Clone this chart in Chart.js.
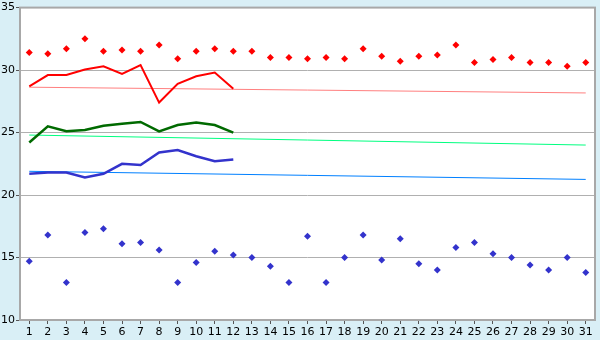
<!DOCTYPE html>
<html>
<head>
<meta charset="utf-8">
<script src="https://cdn.jsdelivr.net/npm/chart.js@4"></script>
<style>
  html, body { margin: 0; padding: 0; background: #d9eff6; }
  #wrap { width: 600px; height: 340px; }
</style>
</head>
<body>
<div id="wrap"><canvas id="canvas1" width="600" height="340"></canvas></div>
<script>
const days = []
for (let d = 1; d <= 31; d++) days.push(String(d))

// daily max / min points
const maxTemps = [31.4, 31.3, 31.7, 32.5, 31.5, 31.6, 31.5, 32.0, 30.9, 31.5,
  31.7, 31.5, 31.5, 31.0, 31.0, 30.9, 31.0, 30.9, 31.7, 31.1,
  30.7, 31.1, 31.2, 32.0, 30.6, 30.85, 31.0, 30.6, 30.6, 30.3, 30.6]
const minTemps = [14.7, 16.8, 13.0, 17.0, 17.3, 16.1, 16.2, 15.6, 13.0, 14.6,
  15.5, 15.2, 15.0, 14.3, 13.0, 16.7, 13.0, 15.0, 16.8, 14.8,
  16.5, 14.5, 14.0, 15.8, 16.2, 15.3, 15.0, 14.4, 14.0, 15.0, 13.8]

// running lines (first 12 days)
const redLine = [28.7, 29.6, 29.6, 30.05, 30.3, 29.7, 30.4, 27.4, 28.9, 29.5, 29.8, 28.5]
const greenLine = [24.2, 25.5, 25.1, 25.2, 25.55, 25.7, 25.85, 25.1, 25.6, 25.8, 25.6, 25.0]
const blueLine = [21.7, 21.8, 21.8, 21.4, 21.7, 22.5, 22.4, 23.4, 23.6, 23.1, 22.7, 22.85]

// trend lines: value at day 1 and day 31
const redTrend = [28.63, 28.17]
const greenTrend = [24.8, 24.0]
const blueTrend = [21.9, 21.25]

const yTicks = [10, 15, 20, 25, 30, 35]

const ends = (arr) => [{x: days[0], y: arr[0]}, {x: days[days.length - 1], y: arr[1]}]

const plotFrame = {
  id: 'plotFrame',
  beforeDraw(chart) {
    const c = chart.ctx, a = chart.chartArea
    c.save()
    c.fillStyle = '#d9eff6'
    c.fillRect(0, 0, chart.width, chart.height)
    c.fillStyle = '#ffffff'
    c.fillRect(a.left, a.top, a.right - a.left, a.bottom - a.top)
    c.restore()
  },
  afterDraw(chart) {
    const c = chart.ctx, a = chart.chartArea
    c.save()
    c.strokeStyle = '#a8a8a8'
    c.lineWidth = 2
    c.strokeRect(a.left, a.top, a.right - a.left, a.bottom - a.top)
    c.restore()
  }
}

const ctx1 = document.getElementById('canvas1').getContext('2d')
new Chart(ctx1, {
  type: 'line',
  data: {
    labels: days,
    datasets: [
      { data: maxTemps, showLine: false, pointStyle: 'rectRot', pointRadius: 3.5, backgroundColor: '#ff0000', borderWidth: 0, pointBorderWidth: 0 },
      { data: minTemps, showLine: false, pointStyle: 'rectRot', pointRadius: 3.5, backgroundColor: '#3333cc', borderWidth: 0, pointBorderWidth: 0 },
      { data: redLine, borderColor: '#ff0000', borderWidth: 2, pointRadius: 0, tension: 0 },
      { data: greenLine, borderColor: '#006a00', borderWidth: 2.5, pointRadius: 0, tension: 0 },
      { data: blueLine, borderColor: '#3333cc', borderWidth: 2.5, pointRadius: 0, tension: 0 },
      { data: ends(redTrend), borderColor: '#ff8080', borderWidth: 1, pointRadius: 0 },
      { data: ends(greenTrend), borderColor: '#00ff80', borderWidth: 1, pointRadius: 0 },
      { data: ends(blueTrend), borderColor: '#0080ff', borderWidth: 1, pointRadius: 0 }
    ]
  },
  options: {
    responsive: false,
    animation: false,
    layout: { padding: { top: 5, right: 5, left: 0, bottom: 0 } },
    plugins: { legend: { display: false }, tooltip: { enabled: false } },
    scales: {
      x: {
        offset: true,
        afterFit: (s) => { s.height = 20 },
        grid: { drawOnChartArea: false, drawTicks: true, tickLength: 4, color: '#555555', offset: false },
        border: { display: false },
        ticks: { color: '#000', font: { family: 'DejaVu Sans', size: 11 }, padding: 2, maxRotation: 0, autoSkip: false }
      },
      y: {
        min: 10,
        max: 35,
        afterFit: (s) => { s.width = 20 },
        afterBuildTicks: (s) => { s.ticks = yTicks.map(v => ({ value: v })) },
        grid: { color: '#b0b0b0', tickLength: 4, tickColor: '#555555' },
        border: { display: false },
        ticks: { color: '#000', font: { family: 'DejaVu Sans', size: 11 }, padding: 1 }
      }
    }
  },
  plugins: [plotFrame]
})
</script>
</body>
</html>
